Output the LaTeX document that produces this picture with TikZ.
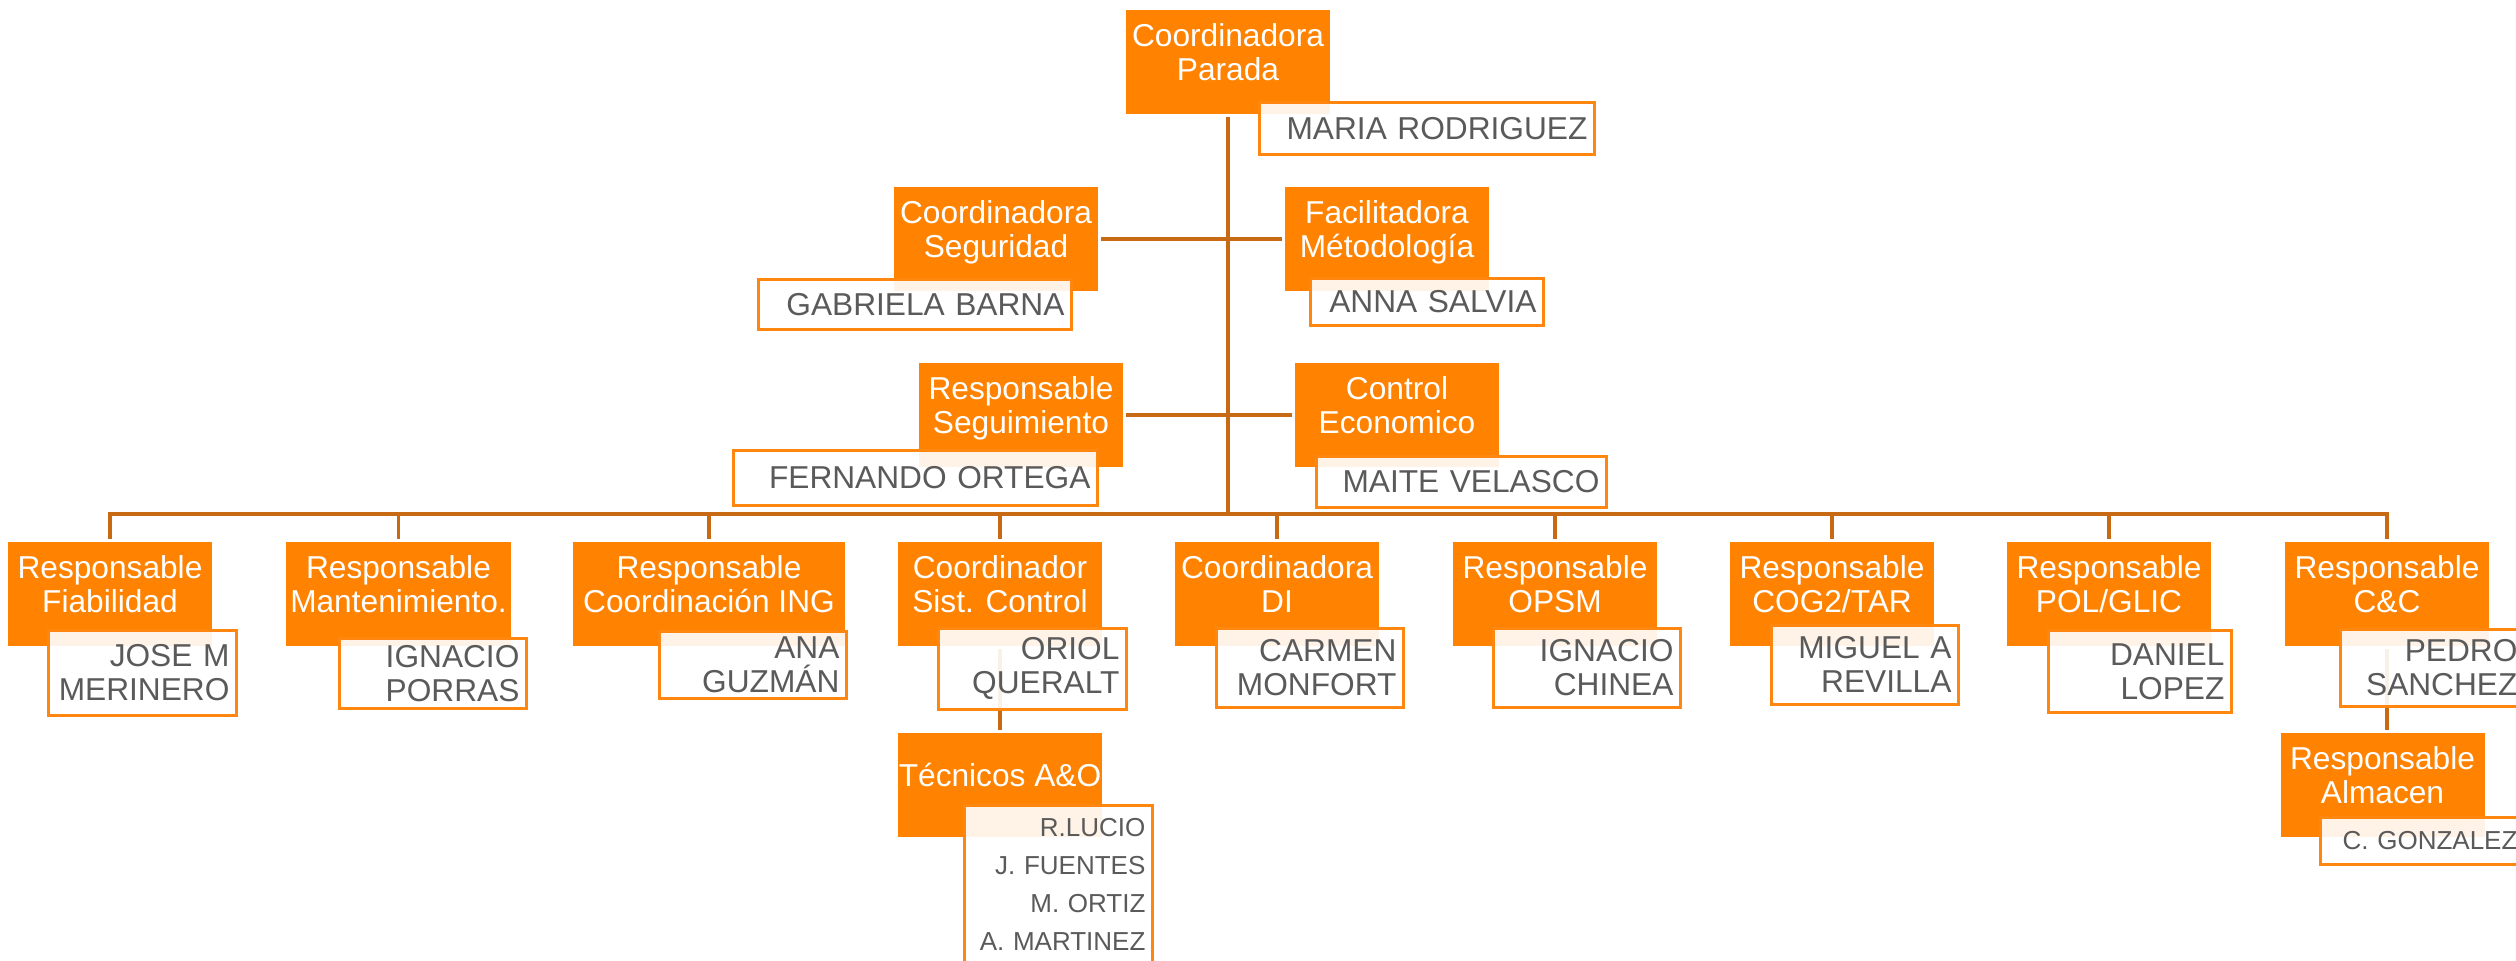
\documentclass[tikz,border=0pt]{standalone}
\usepackage{fontspec}
\setmainfont{Liberation Sans}
\usetikzlibrary{positioning}
\newcommand\pxu{0.3pt}
\definecolor{orgfill}{RGB}{255,130,0}
\definecolor{orgline}{RGB}{200,105,20}
\definecolor{orgdraw}{RGB}{255,135,15}
\definecolor{namegray}{RGB}{90,90,90}
\tikzset{
  basic/.style  = {rectangle, font=\fontsize{9.5}{10.2}\selectfont},
  role/.style   = {basic, fill=orgfill, text=white, align=center, inner sep=0pt,
                   outer sep=0.9pt, minimum width=204*\pxu, minimum height=104*\pxu,
                   execute at end node={\rule[-5.7pt]{0pt}{5.7pt}}},
  person/.style 2 args = {basic, draw=orgdraw, line width=0.85pt, fill=white,
                   fill opacity=0.9, text opacity=1, text=namegray, align=right,
                   inner xsep=7*\pxu, inner ysep=0pt, anchor=north west,
                   text width=(#1-14)*\pxu, minimum height=#2*\pxu},
  link/.style   = {draw=orgline, line width=1.05pt}
}

\begin{document}
\begin{tikzpicture}[x=0.3pt, y=-0.3pt]
\useasboundingbox (0,0) rectangle (2516,960);
\clip (0,0) rectangle (2516,960);

% direccion de la parada
\node[role] (c0) at (1228,62) {Coordinadora\\Parada};
\node[role] (c1) at (996,239) {Coordinadora\\Seguridad};
\node[role] (c2) at (1387,239) {Facilitadora\\Métodología};
\node[role] (c3) at (1021,415) {Responsable\\Seguimiento};
\node[role] (c4) at (1397,415) {Control\\Economico};

% responsables de area
\node[role] (d1) at (110,593.5) {Responsable\\Fiabilidad};
\node[role, minimum width=225*\pxu] (d2) at (398.5,593.5) {Responsable\\Mantenimiento.};
\node[role, minimum width=272*\pxu] (d3) at (709,593.5) {Responsable\\Coordinación ING};
\node[role] (d4) at (1000,593.5) {Coordinador\\Sist. Control};
\node[role] (d5) at (1277,593.5) {Coordinadora\\DI};
\node[role] (d6) at (1555,593.5) {Responsable\\OPSM};
\node[role] (d7) at (1832,593.5) {Responsable\\COG2/TAR};
\node[role] (d8) at (2109,593.5) {Responsable\\POL/GLIC};
\node[role] (d9) at (2387,593.5) {Responsable\\C\&C};

\node[role, below=24.3pt of d4] (t1) {Técnicos A\&O};
\node[role, below=24.3pt of d9, xshift=-1.35pt] (t2) {Responsable\\Almacen};

% conexiones
\coordinate (bus) at (1228,514);
\draw[link] (c0) -- (bus);
\foreach \k in {1,...,9}
  \draw[link] (bus) -| (d\k);
\draw[link] (c1) -- (c2);
\draw[link] (c3) -- (c4);
\draw[link] (d4) -- (t1);
\draw[link] (d9.south) -- (d9.south |- t2.north);

% nombres
\node[person={335}{52}] (c0p) at (1258,101) {MARIA RODRIGUEZ};
\node[person={313}{50}] (c1p) at (757,278) {GABRIELA BARNA};
\node[person={233}{47}] (c2p) at (1309,277) {ANNA SALVIA};
\node[person={364}{55}] (c3p) at (732,449) {FERNANDO ORTEGA};
\node[person={290}{51}] (c4p) at (1315,455) {MAITE VELASCO};

\node[person={188}{85}] (d1p) at (47,629) {JOSE M\\MERINERO};
\node[person={187}{70}] (d2p) at (338,637) {IGNACIO\\PORRAS};
\node[person={187}{67}] (d3p) at (658,630) {ANA\\GUZMÁN};
\node[person={188}{81}] (d4p) at (937,627) {ORIOL\\QUERALT};
\node[person={187}{79}] (d5p) at (1215,627) {CARMEN\\MONFORT};
\node[person={187}{79}] (d6p) at (1492,627) {IGNACIO\\CHINEA};
\node[person={187}{79}] (d7p) at (1770,624) {MIGUEL A\\REVILLA};
\node[person={183}{82}] (d8p) at (2047,629) {DANIEL\\LOPEZ};
\node[person={184}{77}] (d9p) at (2339,628) {PEDRO\\SANCHEZ};

\node[person={188}{197}, font=\fontsize{7.8}{11.4}\selectfont] (t1p) at (963,804)
  {R.LUCIO\\J. FUENTES\\M. ORTIZ\\A. MARTINEZ\rule[-12pt]{0pt}{12pt}};
\node[person={204}{47}, font=\fontsize{7.8}{9}\selectfont] (t2p) at (2319,816) {C. GONZALEZ};

\end{tikzpicture}
\end{document}
